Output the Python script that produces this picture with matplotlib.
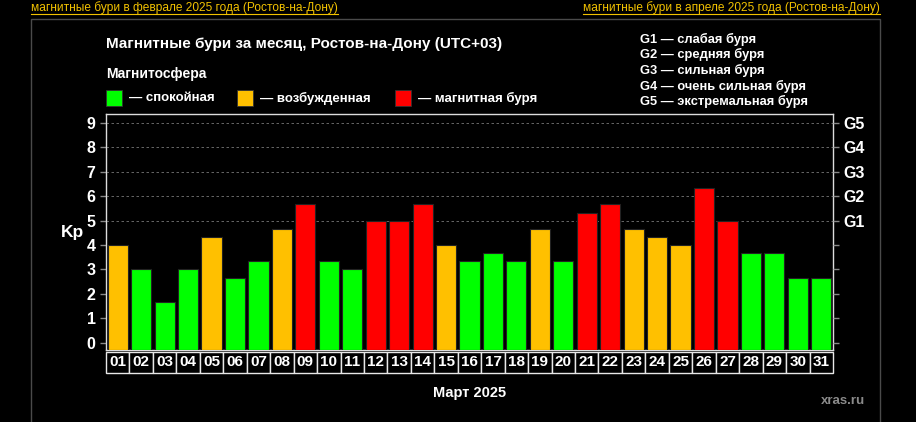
import numpy as np
import matplotlib.pyplot as plt
from matplotlib.patches import Rectangle
from matplotlib.lines import Line2D
import matplotlib.transforms as mtransforms

plt.rcParams['font.family'] = ['Liberation Sans', 'DejaVu Sans']
plt.rcParams['font.weight'] = 'bold'

days = ['%02d' % d for d in range(1, 32)]
kp = [4.0, 3.0, 1.67, 3.0, 4.33, 2.67, 3.33, 4.67, 5.67, 3.33,
      3.0, 5.0, 5.0, 5.67, 4.0, 3.33, 3.67, 3.33, 4.67, 3.33,
      5.33, 5.67, 4.67, 4.33, 4.0, 6.33, 5.0, 3.67, 3.67, 2.67, 2.67]
# 0 = calm, 1 = active, 2 = storm
level = [1, 0, 0, 0, 1, 0, 0, 1, 2, 0,
         0, 2, 2, 2, 1, 0, 0, 0, 1, 0,
         2, 2, 1, 1, 1, 2, 2, 0, 0, 0, 0]
level_colors = ['#00ff00', '#ffc000', '#ff0000']
level_names = ['— спокойная', '— возбужденная', '— магнитная буря']
g_ticks = [5, 6, 7, 8, 9]
g_labels = ['G1', 'G2', 'G3', 'G4', 'G5']
g_legend = ['G1 — слабая буря', 'G2 — средняя буря', 'G3 — сильная буря',
            'G4 — очень сильная буря', 'G5 — экстремальная буря']

W, H = 916, 422
fig = plt.figure(figsize=(W / 100, H / 100), dpi=100, facecolor='black')


def fx(px):
    return px / W


def fy(py):
    return 1 - py / H


# outer frame
fig.patches.append(Rectangle((fx(31), fy(430)), fx(880) - fx(31), fy(19) - fy(430),
                             transform=fig.transFigure, fill=False,
                             edgecolor='#4a4a4a', linewidth=1))

# links on top
links = [('магнитные бури в феврале 2025 года (Ростов-на-Дону)', 31, 'left'),
         ('магнитные бури в апреле 2025 года (Ростов-на-Дону)', 880, 'right')]
link_texts = []
for txt, x, ha in links:
    t = fig.text(fx(x), fy(7.5), txt, color='#f2c200', fontsize=8.6, fontweight='normal',
                 ha=ha, va='center')
    link_texts.append(t)

# plot area
left, right, top, bottom = 106, 833, 114, 350
ax = fig.add_axes([fx(left), fy(bottom), fx(right) - fx(left), fy(top) - fy(bottom)])
ax.set_facecolor('black')
x = np.arange(len(days))
ymin, ymax = -0.3, 9.37
ax.bar(x, np.array(kp) - ymin, bottom=ymin, width=0.86,
       color=[level_colors[l] for l in level], edgecolor='#222222', linewidth=0.8, zorder=3)
ax.set_xlim(-0.5, len(days) - 0.5)
ax.set_ylim(ymin, ymax)
for g in g_ticks:
    ax.axhline(g, color='#777777', linewidth=0.6, linestyle=(0, (3, 3)), zorder=1)
ax.set_yticks(range(10))
ax.tick_params(axis='y', colors='#888888', labelcolor='white', labelsize=11.5, length=4, width=1)
ax.set_xticks([])
for s in ax.spines.values():
    s.set_color('#dddddd')
    s.set_linewidth(1)
ax.set_ylabel('Kp', color='white', fontsize=12.5, fontweight='bold', rotation=0,
              labelpad=10, va='center')

ax2 = ax.twinx()
ax2.set_ylim(ymin, ymax)
ax2.set_yticks(range(10))
ax2.set_yticklabels([g_labels[g_ticks.index(v)] if v in g_ticks else '' for v in range(10)])
ax2.tick_params(axis='y', colors='#888888', labelcolor='white', labelsize=11.5, length=4, width=1)
for s in ax2.spines.values():
    s.set_visible(False)

# day cells below the axes
trans = mtransforms.blended_transform_factory(ax.transData, ax.transAxes)
h_ax = bottom - top
c_top = -2 / h_ax
c_bot = -23 / h_ax
for i, d in enumerate(days):
    ax.add_patch(Rectangle((i - 0.5, c_bot), 1, c_top - c_bot, transform=trans,
                           facecolor='black', edgecolor='#e8e8e8', linewidth=1, clip_on=False))
    ax.text(i, (c_top + c_bot) / 2, d, transform=trans, color='white', fontsize=11,
            ha='center', va='center', clip_on=False)

fig.text(fx(470), fy(393), 'Март 2025', color='white', fontsize=10.5, ha='center', va='center')
fig.text(fx(865), fy(401), 'xras.ru', color='#8a8a8a', fontsize=9.5, ha='right', va='center')

# title and legend
fig.text(fx(106), fy(44), 'Магнитные бури за месяц, Ростов-на-Дону (UTC+03)', color='white',
         fontsize=11, ha='left', va='center')
fig.text(fx(106), fy(74), 'Магнитосфера', color='white', fontsize=10, ha='left', va='center')
sq_x = [106, 237, 395]
for i, name in enumerate(level_names):
    fig.patches.append(Rectangle((fx(sq_x[i]), fy(106)), fx(16), 16 / H, transform=fig.transFigure,
                                 facecolor=level_colors[i], edgecolor='#333333', linewidth=0.6))
    fig.text(fx(sq_x[i] + 23), fy(98), name, color='white', fontsize=9.5, ha='left', va='center')

g_y = [39, 54, 70, 86, 101]
for txt, yy in zip(g_legend, g_y):
    fig.text(fx(640), fy(yy), txt, color='white', fontsize=9.3, ha='left', va='center')

# underline the links
fig.canvas.draw()
r = fig.canvas.get_renderer()
for t in link_texts:
    bb = t.get_window_extent(r)
    fig.lines.append(Line2D([bb.x0 / W, bb.x1 / W], [fy(14), fy(14)], transform=fig.transFigure,
                            color='#f2c200', linewidth=0.8))

fig.savefig('out.png', dpi=100, facecolor='black')
